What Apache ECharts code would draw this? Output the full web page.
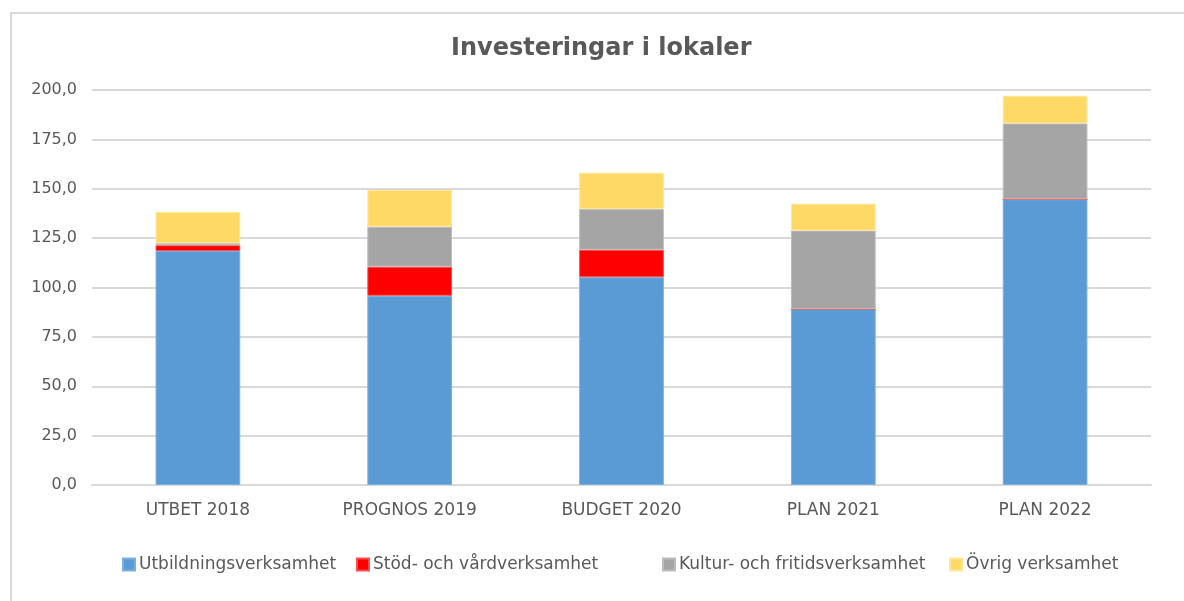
<!DOCTYPE html>
<html>
<head>
<meta charset="utf-8">
<title>Investeringar i lokaler</title>
<script src="https://cdn.jsdelivr.net/npm/echarts@6/dist/echarts.min.js"></script>
<style>
    html, body { margin: 0; padding: 0; background: #fff; }
    #chart { width: 1184px; height: 601px; }
</style>
</head>
<body>
<div id="chart"></div>
<script>
// kategorier och värden (mnkr)
var categories = ["UTBET 2018", "PROGNOS 2019", "BUDGET 2020", "PLAN 2021", "PLAN 2022"];
var utbildning = [118.5, 95.8, 105.2, 89.1, 144.7];
var stod = [2.9, 14.7, 13.9, 0, 0];
var kultur = [1.0, 20.3, 20.6, 39.7, 38.4];
var ovrig = [15.8, 18.6, 18.4, 13.6, 14.0];
var seriesNames = ["Utbildningsverksamhet", "Stöd- och vårdverksamhet", "Kultur- och fritidsverksamhet", "Övrig verksamhet"];

(function () {
    var myChart = echarts.init(document.getElementById("chart"));
    var font = "DejaVu Sans";
    var colors = ["#5b9bd5", "#ff0000", "#a5a5a5", "#ffd966"];
    var borders = ["#7db0de", "#ff4d4d", "#bdbdbd", "#ffe699"];
    var values = [utbildning, stod, kultur, ovrig];
    // legendens x-läge per post (som i Excel-diagrammet)
    var legendLeft = [122, 356, 662, 949];

    var series = values.map(function (data, i) {
        return {
            name: seriesNames[i],
            type: "bar",
            stack: "total",
            barWidth: "40%",
            data: data,
            itemStyle: {
                color: colors[i],
                borderColor: borders[i],
                borderWidth: 1
            }
        };
    });

    var legends = seriesNames.map(function (name, i) {
        return {
            bottom: 28,
            left: legendLeft[i],
            padding: 0,
            itemWidth: 12,
            itemHeight: 12,
            icon: "rect",
            textStyle: { fontFamily: font, fontSize: 17, color: "#595959", padding: [0, 0, 0, -1] },
            data: [name]
        };
    });

    var option = {
        animation: false,
        color: colors,
        textStyle: { fontFamily: font },
        title: {
            text: "Investeringar i lokaler",
            left: 446,
            top: 32,
            textStyle: {
                fontFamily: font,
                fontSize: 24,
                fontWeight: "bold",
                color: "#595959"
            }
        },
        // ram runt diagrammet
        graphic: [{
            type: "rect",
            shape: { x: 11, y: 13, width: 2000, height: 1000 },
            style: { fill: "none", stroke: "#d9d9d9", lineWidth: 2 },
            silent: true
        }],
        legend: legends,
        grid: {
            left: 92,
            right: 33,
            top: 90,
            bottom: 116,
            containLabel: false
        },
        xAxis: {
            type: "category",
            data: categories,
            axisTick: { show: false },
            axisLine: { lineStyle: { color: "#d9d9d9", width: 2 } },
            axisLabel: { color: "#595959", fontSize: 17, margin: 17 }
        },
        yAxis: {
            type: "value",
            min: 0,
            max: 200,
            interval: 25,
            axisLine: { show: false },
            axisTick: { show: false },
            splitLine: { lineStyle: { color: "#d9d9d9", width: 2 } },
            axisLabel: {
                color: "#595959",
                fontSize: 16,
                margin: 15,
                formatter: function (v) { return v.toFixed(1).replace(".", ","); }
            }
        },
        series: series
    };

    myChart.setOption(option);
    window.addEventListener("resize", function () {
        myChart.resize();
    });
})();
</script>
</body>
</html>
